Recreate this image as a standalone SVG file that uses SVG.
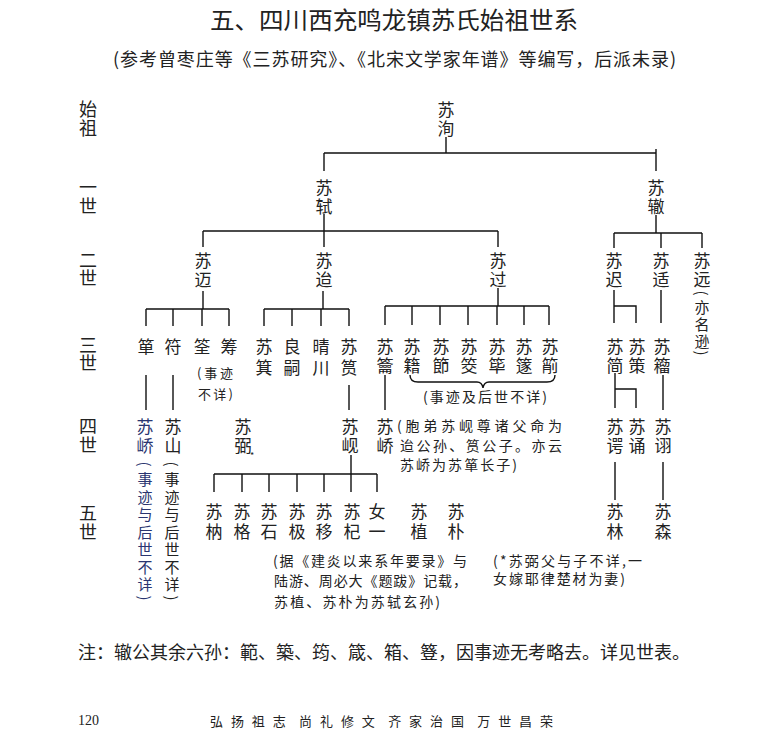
<svg xmlns="http://www.w3.org/2000/svg" width="783" height="731" viewBox="0 0 783 731">
<style>
text{font-family:"Noto Sans CJK SC","Noto Sans CJK JP",sans-serif;fill:#222;dominant-baseline:central}
.t{font-size:24px;text-anchor:middle}
.s{font-size:18px}
.g{font-size:18px;text-anchor:middle}
.n{font-size:17px;text-anchor:middle}
.m{font-size:15px;text-anchor:middle}
.p{font-size:15px;text-anchor:middle}
.k{font-size:14px}
.sm{font-size:13px}
.b{fill:#2a3570}
.f{font-size:13px}
.pg{font-family:"Liberation Serif",serif;font-size:14px}
#conn path{stroke:#111;stroke-width:1.4;fill:none}
</style>
<rect width="783" height="731" fill="#fff"/>
<g id="title">
<text class="t" x="394" y="18" textLength="368" lengthAdjust="spacingAndGlyphs">五、四川西充鸣龙镇苏氏始祖世系</text>
<text class="s" x="113" y="58" textLength="563">(参考曾枣庄等《三苏研究》、《北宋文学家年谱》等编写，后派未录)</text>
</g>
<g id="gen-labels">
<text class="g"><tspan x="88" y="108">始</tspan><tspan x="88" y="127">祖</tspan></text>
<text class="g"><tspan x="88" y="186">一</tspan><tspan x="88" y="205">世</tspan></text>
<text class="g"><tspan x="88" y="259">二</tspan><tspan x="88" y="277">世</tspan></text>
<text class="g"><tspan x="88" y="344">三</tspan><tspan x="88" y="362">世</tspan></text>
<text class="g"><tspan x="88" y="425">四</tspan><tspan x="88" y="444">世</tspan></text>
<text class="g"><tspan x="88" y="512">五</tspan><tspan x="88" y="531">世</tspan></text>
</g>
<g id="conn">
<path d="M446,137V153M324,153H656M324,153V171M656,149V171"/>
<path d="M324,214V231M203,231H498M203,231V247M324,231V247M498,231V247"/>
<path d="M656,215V233M614,233H702M614,233V248M661,233V248M702,233V248"/>
<path d="M203,291V309M146,309H229M146,309V326M173,309V326M202,309V326M229,309V326"/>
<path d="M323,291V309M264,309H349M264,309V326M292,309V326M321,309V326M349,309V326"/>
<path d="M498,288V306M385,306H549M385,306V325M412,306V325M440,306V325M468,306V325M497,306V325M524,306V325M549,306V325"/>
<path d="M614,290V323M614,306H636V323M661,290V323"/>
<path d="M146,375V410M173,375V410M349,385V410M385,375V410"/>
<path d="M615,373V408M615,389H636V408M663,375V410"/>
<path d="M351,455V492M214,474H377M214,474V492M242,474V492M269,474V492M297,474V492M324,474V492M377,474V492"/>
<path d="M615,462V500M663,462V500"/>
<path d="M410,375Q410,382 418,382L477,382Q482,382 483,388Q484,382 489,382L547,382Q555,382 555,375" stroke-width="1.1"/>
</g>
<g id="n-xun"><text class="n"><tspan x="446" y="108">苏</tspan><tspan x="446" y="127">洵</tspan></text></g>
<g id="n-shi"><text class="n"><tspan x="324" y="186">苏</tspan><tspan x="324" y="205">轼</tspan></text></g>
<g id="n-zhe"><text class="n"><tspan x="656" y="186">苏</tspan><tspan x="656" y="205">辙</tspan></text></g>
<g id="n-mai"><text class="n"><tspan x="203" y="259">苏</tspan><tspan x="203" y="278">迈</tspan></text></g>
<g id="n-dai"><text class="n"><tspan x="324" y="259">苏</tspan><tspan x="324" y="278">迨</tspan></text></g>
<g id="n-guo"><text class="n"><tspan x="498" y="259">苏</tspan><tspan x="498" y="278">过</tspan></text></g>
<g id="n-chi"><text class="n"><tspan x="614" y="259">苏</tspan><tspan x="614" y="278">迟</tspan></text></g>
<g id="n-kuo"><text class="n"><tspan x="661" y="259">苏</tspan><tspan x="661" y="278">适</tspan></text></g>
<g id="n-yuan"><text class="n"><tspan x="702" y="259">苏</tspan><tspan x="702" y="278">远</tspan></text>
<text class="p" x="702" y="293" transform="rotate(90 702 293)">(</text>
<text class="m"><tspan x="702" y="306">亦</tspan><tspan x="702" y="323">名</tspan><tspan x="702" y="340">逊</tspan></text>
<text class="p" x="702" y="353" transform="rotate(90 702 353)">)</text></g>
<g id="n-dan"><text class="n" x="146" y="345">箪</text></g>
<g id="n-fu"><text class="n" x="173" y="345">符</text></g>
<g id="n-quan"><text class="n" x="202" y="345">筌</text></g>
<g id="n-chou"><text class="n" x="229" y="345">筹</text>
<text class="sm" x="197" y="372" textLength="36">(事迹</text><text class="sm" x="198" y="393" textLength="35">不详)</text></g>
<g id="n-ji"><text class="n"><tspan x="264" y="345">苏</tspan><tspan x="264" y="366">箕</tspan></text></g>
<g id="n-liangsi"><text class="n"><tspan x="292" y="345">良</tspan><tspan x="292" y="366">嗣</tspan></text></g>
<g id="n-qingchuan"><text class="n"><tspan x="321" y="345">晴</tspan><tspan x="321" y="366">川</tspan></text></g>
<g id="n-yun"><text class="n"><tspan x="349" y="345">苏</tspan><tspan x="349" y="366">筼</tspan></text></g>
<g id="n-yue"><text class="n"><tspan x="385" y="345">苏</tspan><tspan x="385" y="364">籥</tspan></text></g>
<g id="n-ji2"><text class="n"><tspan x="412" y="345">苏</tspan><tspan x="412" y="364">籍</tspan></text></g>
<g id="n-jie"><text class="n"><tspan x="441" y="345">苏</tspan><tspan x="441" y="364">節</tspan></text></g>
<g id="n-jiao"><text class="n"><tspan x="469" y="345">苏</tspan><tspan x="469" y="364">筊</tspan></text></g>
<g id="n-bi"><text class="n"><tspan x="497" y="345">苏</tspan><tspan x="497" y="364">筚</tspan></text></g>
<g id="n-di"><text class="n"><tspan x="524" y="345">苏</tspan><tspan x="524" y="364">篴</tspan></text></g>
<g id="n-xiao"><text class="n"><tspan x="550" y="345">苏</tspan><tspan x="550" y="364">箾</tspan></text></g>
<g id="note-guo"><text class="k" x="485" y="396" text-anchor="middle" textLength="124">(事迹及后世不详)</text></g>
<g id="n-jian"><text class="n"><tspan x="615" y="345">苏</tspan><tspan x="615" y="364">简</tspan></text></g>
<g id="n-ce"><text class="n"><tspan x="637" y="345">苏</tspan><tspan x="637" y="364">策</tspan></text></g>
<g id="n-zhou"><text class="n"><tspan x="662" y="345">苏</tspan><tspan x="662" y="364">籕</tspan></text></g>
<g id="n-qiao1"><text class="n b"><tspan x="145" y="425">苏</tspan><tspan x="145" y="444">峤</tspan></text>
<text class="p b" x="145" y="464" transform="rotate(90 145 464)">(</text>
<text class="m b"><tspan x="145" y="478">事</tspan><tspan x="145" y="496">迹</tspan><tspan x="145" y="513">与</tspan><tspan x="145" y="531">后</tspan><tspan x="145" y="548">世</tspan><tspan x="145" y="566">不</tspan><tspan x="145" y="583">详</tspan></text>
<text class="p b" x="145" y="598" transform="rotate(90 145 598)">)</text></g>
<g id="n-shan"><text class="n"><tspan x="173" y="425">苏</tspan><tspan x="173" y="444">山</tspan></text>
<text class="p" x="172" y="464" transform="rotate(90 172 464)">(</text>
<text class="m"><tspan x="172" y="478">事</tspan><tspan x="172" y="496">迹</tspan><tspan x="172" y="513">与</tspan><tspan x="172" y="531">后</tspan><tspan x="172" y="548">世</tspan><tspan x="172" y="566">不</tspan><tspan x="172" y="583">详</tspan></text>
<text class="p" x="172" y="598" transform="rotate(90 172 598)">)</text></g>
<g id="n-bi2"><text class="n"><tspan x="243" y="425">苏</tspan><tspan x="243" y="444">弼</tspan></text><text x="252" y="455" font-size="9" text-anchor="middle">*</text></g>
<g id="n-xian"><text class="n"><tspan x="350" y="425">苏</tspan><tspan x="350" y="444">岘</tspan></text></g>
<g id="n-qiao2"><text class="n"><tspan x="385" y="425">苏</tspan><tspan x="385" y="444">峤</tspan></text>
<text class="k" x="397" y="425" textLength="165">(胞弟苏岘尊诸父命为</text>
<text class="k" x="400" y="445" textLength="162">迨公孙、筼公子。亦云</text>
<text class="k" x="400" y="464" textLength="117">苏峤为苏箪长子)</text></g>
<g id="n-e"><text class="n"><tspan x="615" y="425">苏</tspan><tspan x="615" y="444">谔</tspan></text></g>
<g id="n-song"><text class="n"><tspan x="637" y="425">苏</tspan><tspan x="637" y="444">诵</tspan></text></g>
<g id="n-xu"><text class="n"><tspan x="663" y="425">苏</tspan><tspan x="663" y="444">诩</tspan></text></g>
<g id="n-na"><text class="n"><tspan x="214" y="510">苏</tspan><tspan x="214" y="530">枘</tspan></text></g>
<g id="n-ge"><text class="n"><tspan x="242" y="510">苏</tspan><tspan x="242" y="530">格</tspan></text></g>
<g id="n-shi2"><text class="n"><tspan x="269" y="510">苏</tspan><tspan x="269" y="530">石</tspan></text></g>
<g id="n-ji3"><text class="n"><tspan x="297" y="510">苏</tspan><tspan x="297" y="530">极</tspan></text></g>
<g id="n-yi"><text class="n"><tspan x="324" y="510">苏</tspan><tspan x="324" y="530">移</tspan></text></g>
<g id="n-qi"><text class="n"><tspan x="352" y="510">苏</tspan><tspan x="352" y="530">杞</tspan></text></g>
<g id="n-nv"><text class="n"><tspan x="377" y="510">女</tspan><tspan x="377" y="530">一</tspan></text></g>
<g id="n-zhi"><text class="n"><tspan x="419" y="510">苏</tspan><tspan x="419" y="530">植</tspan></text></g>
<g id="n-pu"><text class="n"><tspan x="456" y="510">苏</tspan><tspan x="456" y="530">朴</tspan></text></g>
<g id="n-lin"><text class="n"><tspan x="615" y="510">苏</tspan><tspan x="615" y="530">林</tspan></text></g>
<g id="n-sen"><text class="n"><tspan x="663" y="510">苏</tspan><tspan x="663" y="530">森</tspan></text></g>
<g id="note-zhipu">
<text class="k" x="273" y="560" textLength="194">(据《建炎以来系年要录》与</text>
<text class="k" x="274" y="580" textLength="193">陆游、周必大《题跋》记载，</text>
<text class="k" x="274" y="601" textLength="166">苏植、苏朴为苏轼玄孙)</text>
</g>
<g id="note-bi">
<text class="k" x="493" y="560" textLength="149">(*苏弼父与子不详,一</text>
<text class="k" x="493" y="578" textLength="132">女嫁耶律楚材为妻)</text>
</g>
<g id="footnote">
<text class="s" x="78" y="651" textLength="612">注：辙公其余六孙：範、築、筠、箴、箱、簦，因事迹无考略去。详见世表。</text>
</g>
<g id="footer">
<text class="pg" x="78" y="720">120</text>
<text class="f" x="210" y="720" textLength="343" xml:space="preserve">弘 扬 祖 志  尚 礼 修 文  齐 家 治 国  万 世 昌 荣</text>
</g>
</svg>
